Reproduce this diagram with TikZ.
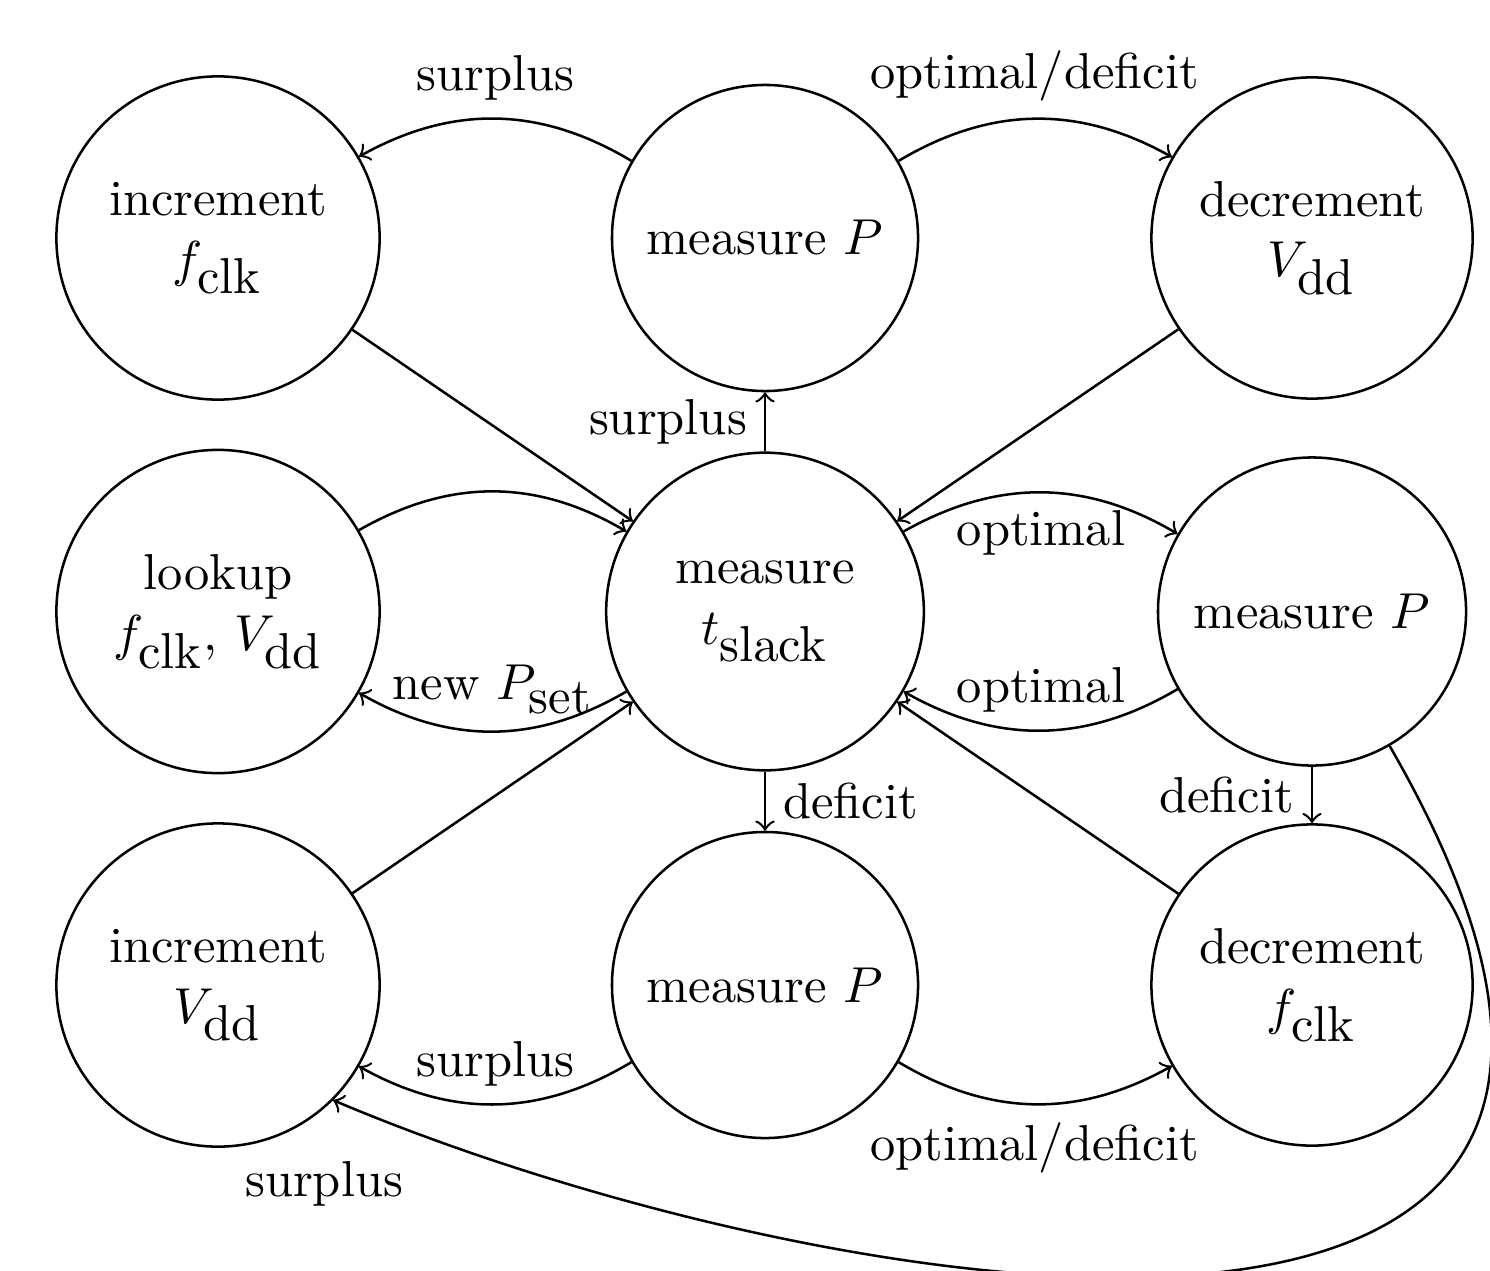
\documentclass[tikz,border=0pt]{standalone}
\newcommand{\sbs}[1]{_{\textstyle\mathrm{#1}}}
\begin{document}
\begin{tikzpicture}[x=0.198pt,y=0.198pt,line width=0.5pt,
  state/.style={circle,draw,align=center,inner sep=0pt},
  conn/.style={->}]
\useasboundingbox (0,0) rectangle (1490,1270);
% row 1
\node[state,minimum size=64pt]   (A) at (218,1032) {increment\\$f\sbs{clk}$};
\node[state,minimum size=60.6pt] (B) at (765,1032) {measure $P$};
\node[state,minimum size=63.6pt] (C) at (1312,1032) {decrement\\$V\sbs{dd}$};
% row 2
\node[state,minimum size=64pt]   (D) at (218,658.5) {lookup\\$f\sbs{clk}$, $V\sbs{dd}$};
\node[state,minimum size=62.9pt] (E) at (765,658.5) {measure\\$t\sbs{slack}$};
\node[state,minimum size=61pt]   (F) at (1312,658.5) {measure $P$};
% row 3
\node[state,minimum size=64pt]   (G) at (218,285) {increment\\$V\sbs{dd}$};
\node[state,minimum size=60.6pt] (H) at (765,285) {measure $P$};
\node[state,minimum size=63.6pt] (I) at (1312,285) {decrement\\$f\sbs{clk}$};
% connectors
\draw[conn] (B) to[bend right=30] node[above] {surplus} (A);
\draw[conn] (B) to[bend left=30] node[above] {optimal/deficit} (C);
\draw[conn] (A) -- (E);
\draw[conn] (C) -- (E);
\draw[conn] (E) -- node[left] {surplus} (B);
\draw[conn] (D) to[bend left=30] (E);
\draw[conn] (E) to[bend left=30] node[above] {new $P\sbs{set}$} (D);
\draw[conn] (E) to[bend left=30] node[below] {optimal} (F);
\draw[conn] (F) to[bend left=30] node[above] {optimal} (E);
\draw[conn] (E) -- node[right] {deficit} (H);
\draw[conn] (F) -- node[left] {deficit} (I);
\draw[conn] (I) -- (E);
\draw[conn] (G) -- (E);
\draw[conn] (H) to[bend left=30] node[above] {surplus} (G);
\draw[conn] (H) to[bend right=30] node[below] {optimal/deficit} (I);
\draw[conn] (F.-60) to[out=-60,in=-23,out distance=168pt,in distance=102pt]
  node[pos=1,anchor=north,xshift=-1.8pt,yshift=-8.5pt] {surplus} (G.-45);
\end{tikzpicture}
\end{document}
